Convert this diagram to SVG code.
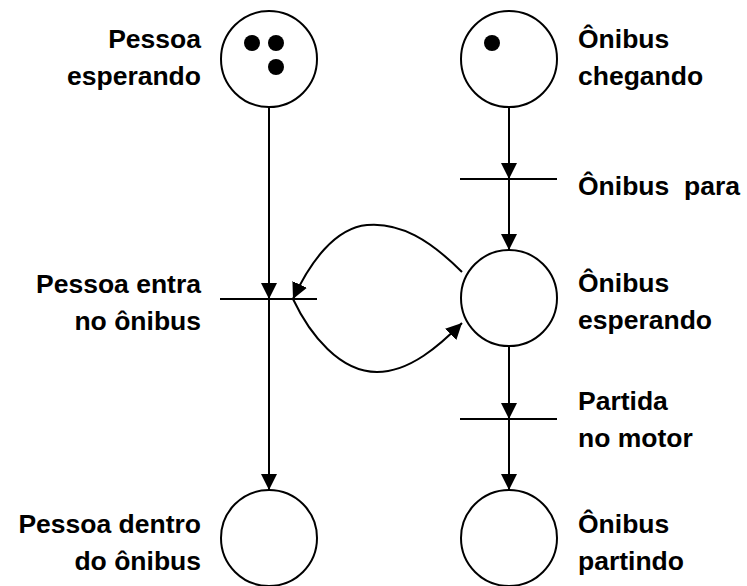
<svg xmlns="http://www.w3.org/2000/svg" width="747" height="586" viewBox="0 0 747 586">
<style>
.place{fill:#fff;stroke:#000;stroke-width:2}
.tok{fill:#000}
.bar{stroke:#000;stroke-width:2}
.arc{fill:none;stroke:#000;stroke-width:2;marker-end:url(#ah)}
.lbl{font-family:"Liberation Sans",Arial,sans-serif;font-weight:bold;font-size:26.5px;fill:#000}
.l{text-anchor:end}
</style>
<defs>
<marker id="ah" markerUnits="userSpaceOnUse" markerWidth="16" markerHeight="16" refX="16" refY="8" orient="auto" viewBox="0 0 16 16">
<path d="M0,0 L16,8 L0,16 z" fill="#000"/>
</marker>
</defs>
<g id="connectors">
<path class="arc" d="M269,107 L269,299"/>
<path class="arc" d="M269,299 L269,490"/>
<path class="arc" d="M509,107 L509,179"/>
<path class="arc" d="M509,179 L509,250"/>
<path class="arc" d="M509,346 L509,419"/>
<path class="arc" d="M509,419 L509,490"/>
<path class="arc" d="M462,272 C430,240 400,222 367,225 C335,228 310,262 293,299"/>
<path class="arc" d="M293,299 C310,335 340,372 377,372 C410,372 440,345 462,323"/>
</g>
<g id="p_pessoa_esperando">
<circle class="place" cx="269" cy="59" r="48"/>
<circle class="tok" cx="252" cy="43" r="8"/>
<circle class="tok" cx="276" cy="43" r="8"/>
<circle class="tok" cx="276" cy="67" r="8"/>
<text class="lbl l" x="201" y="48">Pessoa</text>
<text class="lbl l" x="201" y="85">esperando</text>
</g>
<g id="p_onibus_chegando">
<circle class="place" cx="509" cy="59" r="48"/>
<circle class="tok" cx="492" cy="43" r="8"/>
<text class="lbl" x="578" y="48">Ônibus</text>
<text class="lbl" x="578" y="85">chegando</text>
</g>
<g id="t_onibus_para">
<line class="bar" x1="460" y1="179" x2="557" y2="179"/>
<text class="lbl" x="578" y="195" xml:space="preserve">Ônibus  para</text>
</g>
<g id="t_pessoa_entra">
<line class="bar" x1="220" y1="299" x2="317" y2="299"/>
<text class="lbl l" x="201" y="293">Pessoa entra</text>
<text class="lbl l" x="201" y="330">no ônibus</text>
</g>
<g id="p_onibus_esperando">
<circle class="place" cx="509" cy="298" r="48"/>
<text class="lbl" x="578" y="292">Ônibus</text>
<text class="lbl" x="578" y="329">esperando</text>
</g>
<g id="t_partida">
<line class="bar" x1="460" y1="419" x2="557" y2="419"/>
<text class="lbl" x="578" y="410">Partida</text>
<text class="lbl" x="578" y="447">no motor</text>
</g>
<g id="p_pessoa_dentro">
<circle class="place" cx="269" cy="538" r="48"/>
<text class="lbl l" x="201" y="533">Pessoa dentro</text>
<text class="lbl l" x="201" y="570">do ônibus</text>
</g>
<g id="p_onibus_partindo">
<circle class="place" cx="509" cy="538" r="48"/>
<text class="lbl" x="578" y="533">Ônibus</text>
<text class="lbl" x="578" y="570">partindo</text>
</g>
</svg>
